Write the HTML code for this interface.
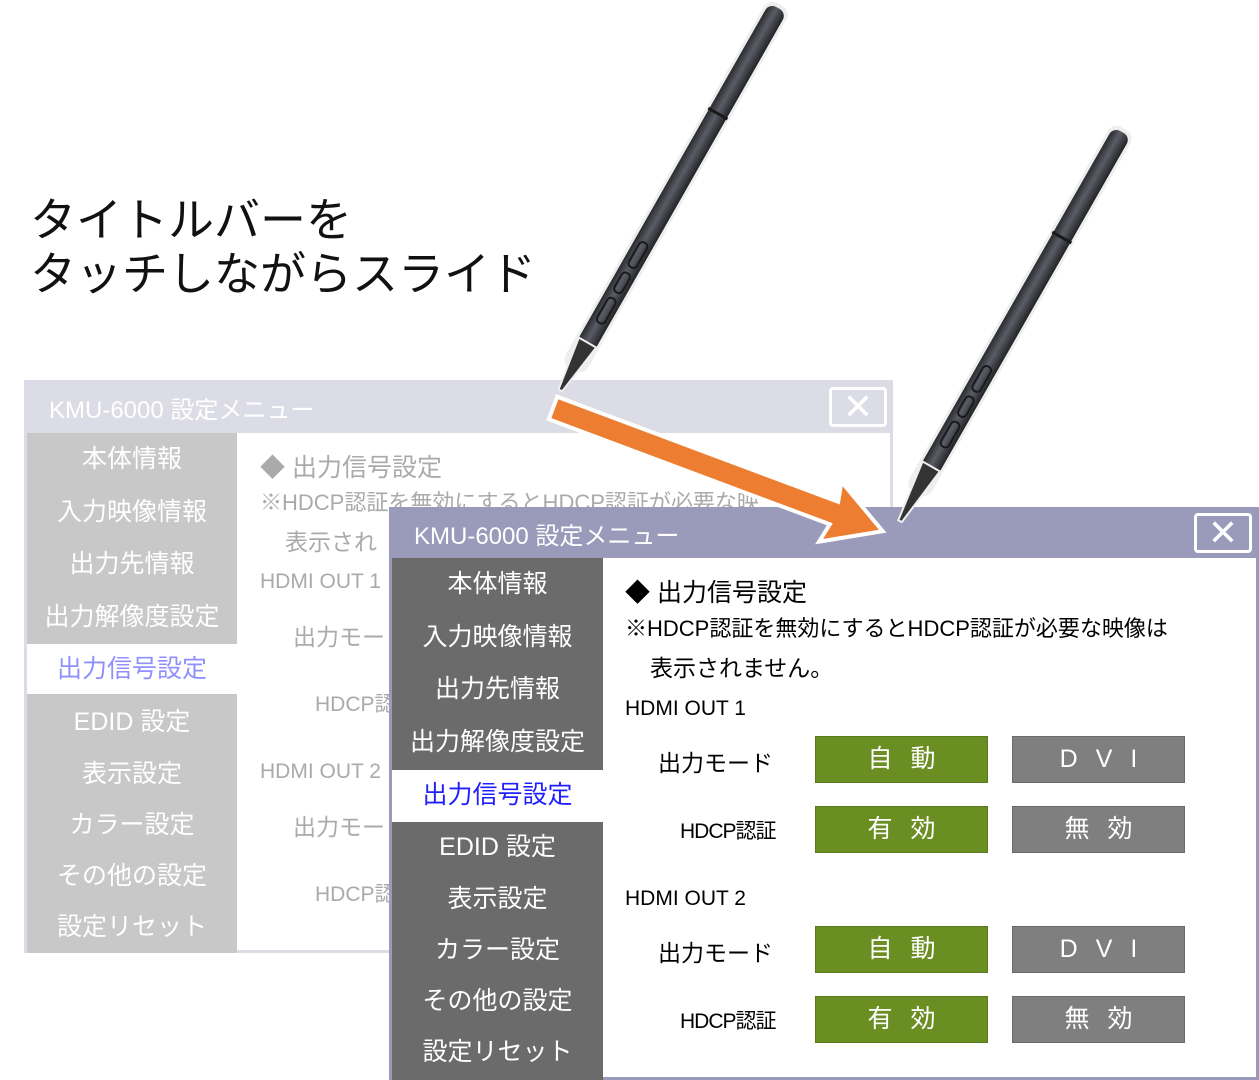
<!DOCTYPE html>
<html><head><meta charset="utf-8"><style>
*{margin:0;padding:0;box-sizing:border-box}
body{width:1259px;height:1080px;background:#fff;position:relative;overflow:hidden;font-family:"Liberation Sans","Noto Sans CJK JP",sans-serif}
.a{position:absolute;white-space:nowrap}
.win{position:absolute}
.side div{position:absolute;left:0;width:100%;text-align:center;font-size:25px}
.btn{position:absolute;width:173px;height:47px;text-align:center;line-height:45px;font-size:25px;color:#fff;letter-spacing:18px;text-indent:18px}
.g{background:#6b8e23;border:1px solid #5a7a1e}
.d{background:#7f7f7f;border:1px solid #6a6a6a}
.x{position:absolute;left:802px;width:58px;height:40px;border:3px solid #fff;border-radius:4px;color:#fff;font-size:36px;text-align:center;line-height:34px}
</style></head><body>
<div class="a" style="left:30px;top:193px;font-size:46px;line-height:54px;color:#111">タイトルバーを<br>タッチしながらスライド</div>

<!-- back window -->
<div class="win" style="left:24px;top:380px;width:869px;height:573px;background:#fff;border:3px solid #dcdce6">
 <div style="position:absolute;left:0;top:0;width:100%;height:50px;background:#dcdce6"></div>
 <div class="a" style="left:22px;top:7px;font-size:24px;color:#fff">KMU-6000 設定メニュー</div>
 <div class="x" style="top:4px">✕</div>
 <div class="side" style="position:absolute;left:0;top:50px;width:210px;height:520px;background:#c8c8c8;color:#fff">
  <div style="top:6px">本体情報</div><div style="top:59px">入力映像情報</div><div style="top:111px">出力先情報</div><div style="top:164px">出力解像度設定</div>
  <div style="top:211px;height:50px;background:#fff;color:#8f8fff;line-height:50px">出力信号設定</div>
  <div style="top:269px">EDID 設定</div><div style="top:321px">表示設定</div><div style="top:372px">カラー設定</div><div style="top:423px">その他の設定</div><div style="top:474px">設定リセット</div>
 </div>
 <div class="a" style="left:233px;top:65px;font-size:25px;color:#aaa">◆ 出力信号設定</div>
 <div class="a" style="left:233px;top:102px;font-size:22px;color:#aaa">※HDCP認証を無効にするとHDCP認証が必要な映</div>
 <div class="a" style="left:258px;top:140px;font-size:23px;color:#aaa">表示され</div>
 <div class="a" style="left:233px;top:187px;font-size:21px;color:#aaa">HDMI OUT 1</div>
 <div class="a" style="left:266px;top:235px;font-size:23px;color:#aaa">出力モー</div>
 <div class="a" style="left:288px;top:305px;font-size:21px;color:#aaa">HDCP認</div>
 <div class="a" style="left:233px;top:377px;font-size:21px;color:#aaa">HDMI OUT 2</div>
 <div class="a" style="left:266px;top:425px;font-size:23px;color:#aaa">出力モー</div>
 <div class="a" style="left:288px;top:495px;font-size:21px;color:#aaa">HDCP認</div>
</div>

<!-- front window -->
<div class="win" style="left:389px;top:507px;width:870px;height:573px;background:#fff;border:3px solid #9a9abb">
 <div style="position:absolute;left:0;top:0;width:100%;height:48px;background:#9a9abb"></div>
 <div class="a" style="left:22px;top:6px;font-size:24px;color:#fff">KMU-6000 設定メニュー</div>
 <div class="x" style="top:3px">✕</div>
 <div class="side" style="position:absolute;left:0;top:48px;width:211px;height:522px;background:#6b6b6b;color:#fff">
  <div style="top:6px">本体情報</div><div style="top:59px">入力映像情報</div><div style="top:111px">出力先情報</div><div style="top:164px">出力解像度設定</div>
  <div style="top:212px;height:52px;background:#fff;color:#2020ff;line-height:50px">出力信号設定</div>
  <div style="top:269px">EDID 設定</div><div style="top:321px">表示設定</div><div style="top:372px">カラー設定</div><div style="top:423px">その他の設定</div><div style="top:474px">設定リセット</div>
 </div>
 <div class="a" style="left:233px;top:63px;font-size:25px;color:#000">◆ 出力信号設定</div>
 <div class="a" style="left:233px;top:101px;font-size:22px;color:#000">※HDCP認証を無効にするとHDCP認証が必要な映像は</div>
 <div class="a" style="left:258px;top:139px;font-size:23px;color:#000">表示されません。</div>
 <div class="a" style="left:233px;top:187px;font-size:21px;color:#000">HDMI OUT 1</div>
 <div class="a" style="left:266px;top:234px;font-size:23px;color:#000">出力モード</div>
 <div class="a" style="left:288px;top:305px;font-size:21px;color:#000;letter-spacing:-1px">HDCP認証</div>
 <div class="a" style="left:233px;top:377px;font-size:21px;color:#000">HDMI OUT 2</div>
 <div class="a" style="left:266px;top:424px;font-size:23px;color:#000">出力モード</div>
 <div class="a" style="left:288px;top:495px;font-size:21px;color:#000;letter-spacing:-1px">HDCP認証</div>
 <div class="btn g" style="left:423px;top:226px">自動</div><div class="btn d" style="left:620px;top:226px">DVI</div>
 <div class="btn g" style="left:423px;top:296px">有効</div><div class="btn d" style="left:620px;top:296px">無効</div>
 <div class="btn g" style="left:423px;top:416px">自動</div><div class="btn d" style="left:620px;top:416px">DVI</div>
 <div class="btn g" style="left:423px;top:486px">有効</div><div class="btn d" style="left:620px;top:486px">無効</div>
</div>

<svg width="1259" height="1080" style="position:absolute;left:0;top:0">
 <defs><linearGradient id="pg" x1="0" x2="1" y1="0" y2="0"><stop offset="0" stop-color="#2a2b2f"/><stop offset=".45" stop-color="#5a5d66"/><stop offset="1" stop-color="#222326"/></linearGradient></defs>
 <g transform="translate(778,8) rotate(29.65)">
  <rect x="-13" y="-4" width="26" height="420" rx="10" fill="#eee"/>
  <rect x="-10" y="0" width="20" height="392" rx="8" fill="url(#pg)"/>
  <path d="M-10 385 L10 385 L2 440 L-2 440Z" fill="#333" stroke="#eee" stroke-width="2"/>
  <rect x="-11" y="120" width="22" height="3" fill="#1a1a1a"/>
  <rect x="-4" y="270" width="9" height="28" rx="4" fill="none" stroke="#1a1a1a" stroke-width="2"/>
  <rect x="-4" y="305" width="9" height="22" rx="4" fill="none" stroke="#1a1a1a" stroke-width="2"/>
  <rect x="-4" y="334" width="9" height="28" rx="4" fill="none" stroke="#1a1a1a" stroke-width="2"/>
 </g>
 <g transform="translate(1122,132) rotate(29.7)">
  <rect x="-13" y="-4" width="26" height="420" rx="10" fill="#eee"/>
  <rect x="-10" y="0" width="20" height="392" rx="8" fill="url(#pg)"/>
  <path d="M-10 385 L10 385 L2 448 L-2 448Z" fill="#333" stroke="#eee" stroke-width="2"/>
  <rect x="-11" y="120" width="22" height="3" fill="#1a1a1a"/>
  <rect x="-4" y="270" width="9" height="28" rx="4" fill="none" stroke="#1a1a1a" stroke-width="2"/>
  <rect x="-4" y="305" width="9" height="22" rx="4" fill="none" stroke="#1a1a1a" stroke-width="2"/>
  <rect x="-4" y="334" width="9" height="28" rx="4" fill="none" stroke="#1a1a1a" stroke-width="2"/>
 </g>
 <g transform="translate(553,408) rotate(20.5)">
  <path d="M0 -12 L300 -12 L296 -32 L352 0 L296 32 L300 12 L0 12Z" fill="#ed7d31" stroke="#fff" stroke-width="4" stroke-linejoin="miter"/>
 </g>
</svg>
</body></html>
